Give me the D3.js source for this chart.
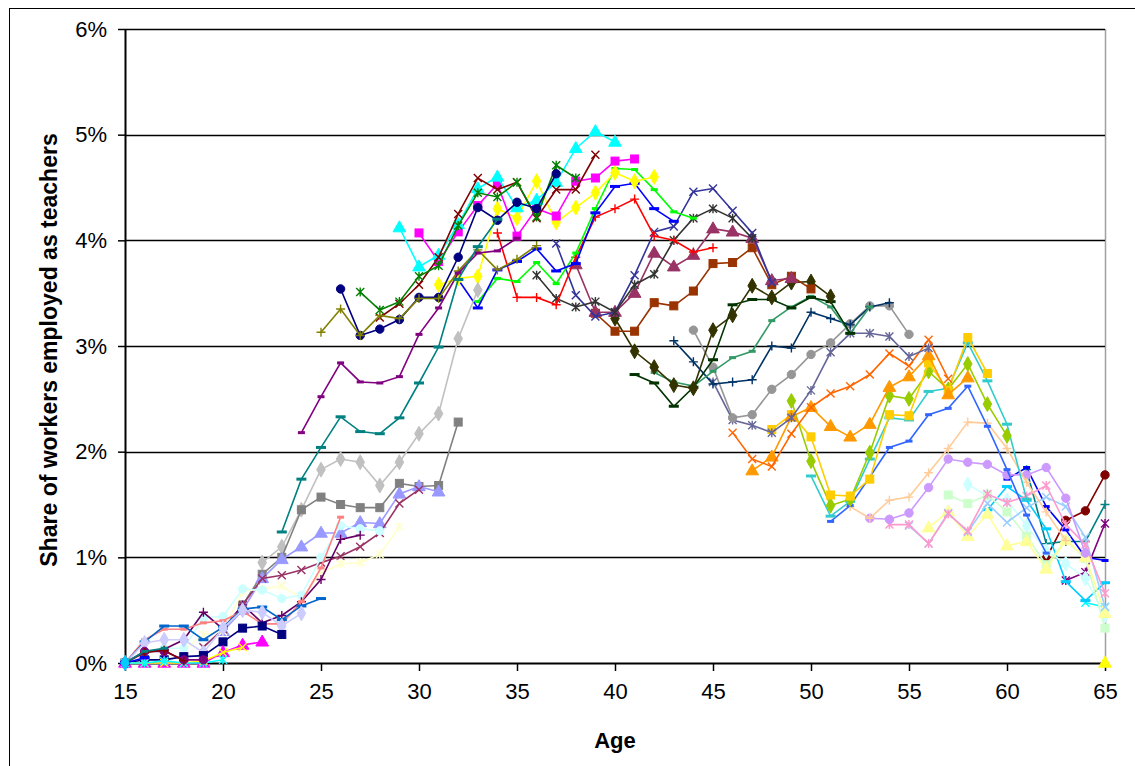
<!DOCTYPE html>
<html><head><meta charset="utf-8">
<script src="https://cdn.jsdelivr.net/npm/d3@7"></script>
<style>
html,body{margin:0;padding:0;background:#fff;}
svg{display:block;font-family:"Liberation Sans",Arial,sans-serif;}
</style></head>
<body>
<svg id="chart" width="1135" height="766"></svg>
<script>
// ---- DATA ----
// first age of each cohort series (12 consecutive ages each, clipped to 15..65)
const cohortStart = [65,64,63,62,61,60,59,58,57,56,55,54,53,52,51,50,49,48,47,46,45,44,43,42,41,40,39,38,37,36,
  34,33,32,31,30,29,28,27,26,25,24,23,22,21,20,19,18,17,16,15,14,13,12,11,10,9,8,7,6,5,4];
const cohortColor = ["#FFFF00","#00FFFF","#800080","#800000","#008080","#0000FF","#00CCFF","#CCFFFF","#CCFFCC","#FFFF99",
  "#99CCFF","#FF99CC","#CC99FF","#FFCC99","#3366FF","#33CCCC","#99CC00","#FFCC00","#FF9900","#FF6600",
  "#666699","#969696","#003366","#339966","#003300","#333300","#993300","#993366","#333399","#333333",
  "#FF0000","#00FF00","#0000FF","#FFFF00","#FF00FF","#00FFFF","#800000","#008000","#000080","#808000",
  "#800080","#008080","#C0C0C0","#808080","#9999FF","#993366","#FFFFCC","#CCFFFF","#660066","#FF8080",
  "#0066CC","#CCCCFF","#000080","#FF00FF","#FFFF00","#00FFFF","#800080","#800000","#008080","#0000FF","#00CCFF"];
const cohortMarker = ["triangle","x","star","circle","plus","dash","longdash","diamond","square","triangle",
  "x","star","circle","plus","dash","longdash","diamond","square","triangle","x",
  "star","circle","plus","dash","longdash","diamond","square","triangle","x","star",
  "plus","dash","longdash","diamond","square","triangle","x","star","circle","plus",
  "dash","longdash","diamond","square","triangle","x","star","circle","plus","dash",
  "longdash","diamond","square","triangle","x","star","circle","plus","dash","longdash","diamond"];
// share (%) of workers employed as teachers, by age, per cohort
const cohortValues = [
  [0],
  [0.57,0.53],
  [0.78,0.86,1.32],
  [0.99,1.35,1.44,1.78],
  [1.83,1.13,1.15,1.15,1.5],
  [1.74,1.85,1.48,1.26,1.0,0.97],
  [1.45,1.67,1.54,1.27,0.77,0.59,0.76],
  [1.69,1.58,1.54,1.3,1.06,0.94,0.8,0.45],
  [1.59,1.51,1.59,1.43,1.2,0.93,1.16,0.99,0.33],
  [1.28,1.43,1.2,1.41,1.11,1.15,0.89,1.16,1.0,0.47],
  [1.3,1.13,1.42,1.24,1.51,1.33,1.47,1.57,1.48,1.19,0.53],
  [1.31,1.31,1.13,1.41,1.25,1.6,1.52,1.58,1.68,1.31,1.12,0.66],
  [1.37,1.36,1.42,1.66,1.93,1.9,1.88,1.78,1.78,1.85,1.56,1.04],
  [1.48,1.37,1.54,1.57,1.8,2.03,2.28,2.27,2.03,1.71,1.43,1.16],
  [1.34,1.49,1.76,2.04,2.1,2.35,2.41,2.62,2.24,1.83,1.4,1.04],
  [1.77,1.39,1.53,1.93,2.32,2.3,2.57,2.6,3.03,2.67,2.26,1.55],
  [2.48,1.91,1.49,1.55,1.99,2.53,2.5,2.76,2.59,2.83,2.45,2.15],
  [2.21,2.35,2.14,1.59,1.58,1.74,2.35,2.34,2.84,2.58,3.08,2.74],
  [1.82,1.95,2.33,2.42,2.24,2.14,2.26,2.61,2.71,2.91,2.54,2.7],
  [2.18,1.93,1.86,2.17,2.42,2.55,2.62,2.73,2.93,2.81,3.06,2.69],
  [2.66,2.3,2.25,2.18,2.32,2.58,2.94,3.12,3.12,3.09,2.9,2.98],
  [3.15,2.8,2.32,2.35,2.59,2.73,2.92,3.03,3.21,3.38,3.38,3.11],
  [3.05,2.85,2.64,2.66,2.68,3.0,2.98,3.32,3.26,3.2,3.37,3.41],
  [2.75,2.66,2.62,2.76,2.89,2.95,3.24,3.37,3.47,3.37,3.12,3.37],
  [2.73,2.65,2.43,2.61,2.87,3.39,3.44,3.44,3.36,3.46,3.42,3.12],
  [3.26,2.95,2.8,2.63,2.6,3.15,3.29,3.57,3.46,3.6,3.61,3.47],
  [3.31,3.14,3.14,3.41,3.38,3.52,3.78,3.79,3.93,3.58,3.66,3.54],
  [3.77,3.32,3.32,3.5,3.88,3.75,3.86,4.11,4.08,4.02,3.62,3.64],
  [3.97,3.48,3.28,3.32,3.67,4.08,4.13,4.46,4.49,4.28,4.07,3.6],
  [3.67,3.45,3.37,3.42,3.32,3.58,3.68,4.0,4.21,4.3,4.21,4.02],
  [4.07,3.46,3.46,3.39,3.84,4.22,4.3,4.39,4.04,4.0,3.89,3.93],
  [3.42,3.64,3.61,3.79,3.59,3.88,4.3,4.68,4.67,4.48,4.27,4.21],
  [3.63,3.36,3.72,3.8,3.92,3.71,3.78,4.26,4.51,4.54,4.3,4.18],
  [3.58,3.64,3.66,4.3,4.21,4.56,4.17,4.31,4.45,4.64,4.56,4.6],
  [4.07,3.8,4.08,4.33,4.53,4.04,4.3,4.23,4.56,4.59,4.75,4.77],
  [4.12,3.75,3.86,4.15,4.49,4.6,4.31,4.38,4.55,4.87,5.03,4.93],
  [3.27,3.4,3.58,3.84,4.25,4.59,4.48,4.55,4.21,4.48,4.48,4.81],
  [3.51,3.34,3.42,3.66,3.76,4.14,4.45,4.41,4.55,4.22,4.71,4.59],
  [3.54,3.1,3.16,3.25,3.46,3.46,3.84,4.31,4.19,4.36,4.3,4.63],
  [3.13,3.35,3.1,3.29,3.26,3.45,3.45,3.71,3.91,3.72,3.82,3.95],
  [2.18,2.52,2.84,2.66,2.65,2.71,3.11,3.36,3.69,3.88,3.9,4.02],
  [1.24,1.74,2.04,2.33,2.19,2.17,2.32,2.65,2.99,3.63,3.94,4.2],
  [0.95,1.1,1.45,1.83,1.93,1.9,1.68,1.9,2.17,2.36,3.07,3.53],
  [0.55,0.84,1.0,1.45,1.57,1.5,1.47,1.47,1.7,1.67,1.68,2.28],
  [0.3,0.5,0.8,0.98,1.1,1.23,1.23,1.33,1.32,1.6,1.67,1.62],
  [0.15,0.32,0.55,0.8,0.83,0.88,0.95,1.01,1.1,1.23,1.51,1.64],
  [0.12,0.27,0.3,0.68,0.7,0.73,0.61,0.85,0.94,0.95,1.03,1.29],
  [0.14,0.14,0.43,0.44,0.7,0.69,0.61,0.64,1.0,1.3,1.27,1.25],
  [0.1,0.13,0.22,0.48,0.32,0.55,0.38,0.45,0.58,0.79,1.17,1.21],
  [0,0.22,0.32,0.32,0.38,0.4,0.49,0.37,0.37,0.58,0.9,1.38],
  [0,0.2,0.35,0.35,0.22,0.34,0.51,0.53,0.41,0.54,0.61],
  [0,0.19,0.22,0.22,0.1,0.33,0.5,0.48,0.35,0.47],
  [0,0.03,0.03,0.06,0.07,0.2,0.33,0.35,0.27],
  [0,0,0,0,0,0.1,0.17,0.2],
  [0,0,0,0,0.02,0.1,0.15],
  [0,0,0.02,0,0,0.03],
  [0,0.11,0.11,0.03,0.03],
  [0,0.1,0.12,0.02],
  [0,0.11,0.14],
  [0,0.05],
  [0]
];
const xTicks = [15,20,25,30,35,40,45,50,55,60,65];
const yTicks = [0,1,2,3,4,5,6];
const xTitle = "Age";
const yTitle = "Share of workers employed as teachers";

// ---- DRAW ----
const svg = d3.select("#chart");
const L = 125, R = 1105, T = 29, B = 663;
const x = d3.scaleLinear().domain([15,65]).range([L,R]);
const y = d3.scaleLinear().domain([0,6]).range([B,T]);

// chart area border
svg.append("rect").attr("x",9.5).attr("y",8.5).attr("width",1140).attr("height",780)
  .attr("fill","none").attr("stroke","#000").attr("stroke-width",1);

// plot area right border
svg.append("line").attr("x1",R+0.5).attr("x2",R+0.5).attr("y1",T).attr("y2",B)
  .attr("stroke","#a0a0a0").attr("stroke-width",1.5);

// gridlines
svg.append("g").selectAll("line").data(yTicks.filter(d=>d>0)).join("line")
  .attr("x1",L).attr("x2",R).attr("y1",d=>Math.round(y(d))+0.5).attr("y2",d=>Math.round(y(d))+0.5)
  .attr("stroke","#000").attr("stroke-width",1.3);

// axes
const gx = svg.append("g").attr("transform",`translate(0,${B})`)
  .call(d3.axisBottom(x).tickValues(xTicks).tickSize(8).tickPadding(12).tickFormat(d3.format("d")));
const gy = svg.append("g").attr("transform",`translate(${L},0)`)
  .call(d3.axisLeft(y).tickValues(yTicks).tickSize(7).tickPadding(11).tickFormat(d=>d+"%"));
[gx,gy].forEach(g=>{
  g.select(".domain").attr("stroke","#000").attr("stroke-width",2);
  g.selectAll(".tick line").attr("stroke","#000").attr("stroke-width",1.5);
  g.selectAll(".tick text").attr("fill","#000").style("font-size","22px")
    .style("font-family","'Liberation Sans',Arial,sans-serif");
});
gx.select(".domain").attr("d",`M${L},0.5H${R}`);
gy.select(".domain").attr("d",`M0.5,${B}V${T}`);

// titles
svg.append("text").attr("x",(L+R)/2).attr("y",748).attr("text-anchor","middle")
  .style("font-size","22px").style("font-weight","bold").text(xTitle);
svg.append("text").attr("transform",`translate(57,350) rotate(-90)`).attr("text-anchor","middle")
  .style("font-size","23px").style("font-weight","bold").text(yTitle);

// series
const line = d3.line().x(d=>x(d.age)).y(d=>y(d.v));
function drawMarker(g, type, color, cx, cy){
  switch(type){
    case "square": g.append("rect").attr("x",cx-4).attr("y",cy-4).attr("width",8).attr("height",8).attr("fill",color).attr("stroke",color); break;
    case "diamond": g.append("path").attr("d",d3.symbol(d3.symbolDiamond,64)()).attr("transform",`translate(${cx},${cy})`).attr("fill",color).attr("stroke",color); break;
    case "triangle": g.append("path").attr("d",d3.symbol(d3.symbolTriangle,70)()).attr("transform",`translate(${cx},${cy+0.5})`).attr("fill",color).attr("stroke",color); break;
    case "circle": g.append("circle").attr("cx",cx).attr("cy",cy).attr("r",4.2).attr("fill",color).attr("stroke",color); break;
    case "x": g.append("path").attr("d",`M${cx-4},${cy-4}L${cx+4},${cy+4}M${cx-4},${cy+4}L${cx+4},${cy-4}`).attr("stroke",color).attr("stroke-width",1.4).attr("fill","none"); break;
    case "star": g.append("path").attr("d",`M${cx-4},${cy-4}L${cx+4},${cy+4}M${cx-4},${cy+4}L${cx+4},${cy-4}M${cx},${cy-4.5}L${cx},${cy+4.5}`).attr("stroke",color).attr("stroke-width",1.4).attr("fill","none"); break;
    case "plus": g.append("path").attr("d",`M${cx-4.5},${cy}L${cx+4.5},${cy}M${cx},${cy-4.5}L${cx},${cy+4.5}`).attr("stroke",color).attr("stroke-width",1.4).attr("fill","none"); break;
    case "dash": g.append("rect").attr("x",cx-3.5).attr("y",cy-1.5).attr("width",7).attr("height",3).attr("fill",color); break;
    case "longdash": g.append("rect").attr("x",cx-5).attr("y",cy-1.5).attr("width",10).attr("height",3).attr("fill",color); break;
  }
}
cohortStart.forEach((st,i)=>{
  const pts = cohortValues[i].map((v,k)=>({age:Math.max(st,15)+k, v}));
  const g = svg.append("g");
  g.append("path").datum(pts).attr("d",line).attr("fill","none")
    .attr("stroke",cohortColor[i]).attr("stroke-width",1.6);
  pts.forEach(p=>drawMarker(g, cohortMarker[i], cohortColor[i], x(p.age), y(p.v)));
});
</script>
</body></html>
